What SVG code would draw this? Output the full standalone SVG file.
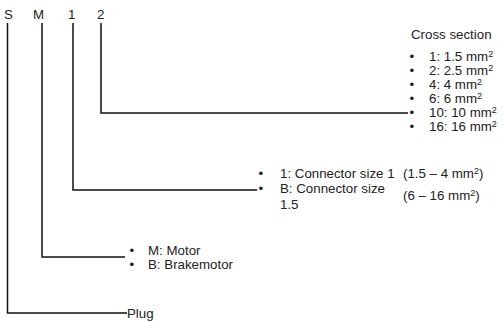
<svg xmlns="http://www.w3.org/2000/svg" width="503" height="321" viewBox="0 0 503 321">
<style>
text{font-family:"Liberation Sans",Arial,sans-serif;font-size:13.3px;fill:#222}
.sup{font-size:9px}
.ln{fill:none;stroke:#111;stroke-width:1.5}
</style>
<rect width="503" height="321" fill="#fff"/>
<g id="connectors">
<polyline class="ln" points="7.5,23 7.5,313 127,313"/>
<polyline class="ln" points="42,23 42,257 125,257"/>
<polyline class="ln" points="73,23 73,190 257,190"/>
<polyline class="ln" points="101,23 101,113 408,113"/>
</g>
<g id="code">
<text x="4" y="19">S</text>
<text x="33" y="19">M</text>
<text x="68" y="19">1</text>
<text x="97" y="19">2</text>
</g>
<g id="cross-section">
<text x="411" y="39">Cross section</text>
<text x="409.5" y="61">•<tspan x="429">1: 1.5 mm</tspan><tspan class="sup" dy="-4.5">2</tspan></text>
<text x="409.5" y="75">•<tspan x="429">2: 2.5 mm</tspan><tspan class="sup" dy="-4.5">2</tspan></text>
<text x="409.5" y="89">•<tspan x="429">4: 4 mm</tspan><tspan class="sup" dy="-4.5">2</tspan></text>
<text x="409.5" y="103">•<tspan x="429">6: 6 mm</tspan><tspan class="sup" dy="-4.5">2</tspan></text>
<text x="409.5" y="117">•<tspan x="429">10: 10 mm</tspan><tspan class="sup" dy="-4.5">2</tspan></text>
<text x="409.5" y="131">•<tspan x="429">16: 16 mm</tspan><tspan class="sup" dy="-4.5">2</tspan></text>
</g>
<g id="connector-size">
<text x="258.5" y="178">•<tspan x="280">1: Connector size 1</tspan></text>
<text x="258.5" y="193">•<tspan x="280">B: Connector size</tspan></text>
<text x="280" y="209">1.5</text>
<text x="403" y="178">(1.5 – 4 mm<tspan class="sup" dy="-4.5">2</tspan><tspan dy="4.5">)</tspan></text>
<text x="403" y="200">(6 – 16 mm<tspan class="sup" dy="-4.5">2</tspan><tspan dy="4.5">)</tspan></text>
</g>
<g id="motor">
<text x="129.5" y="255">•<tspan x="148">M: Motor</tspan></text>
<text x="129.5" y="269">•<tspan x="148">B: Brakemotor</tspan></text>
</g>
<g id="plug">
<text x="127" y="318">Plug</text>
</g>
</svg>
